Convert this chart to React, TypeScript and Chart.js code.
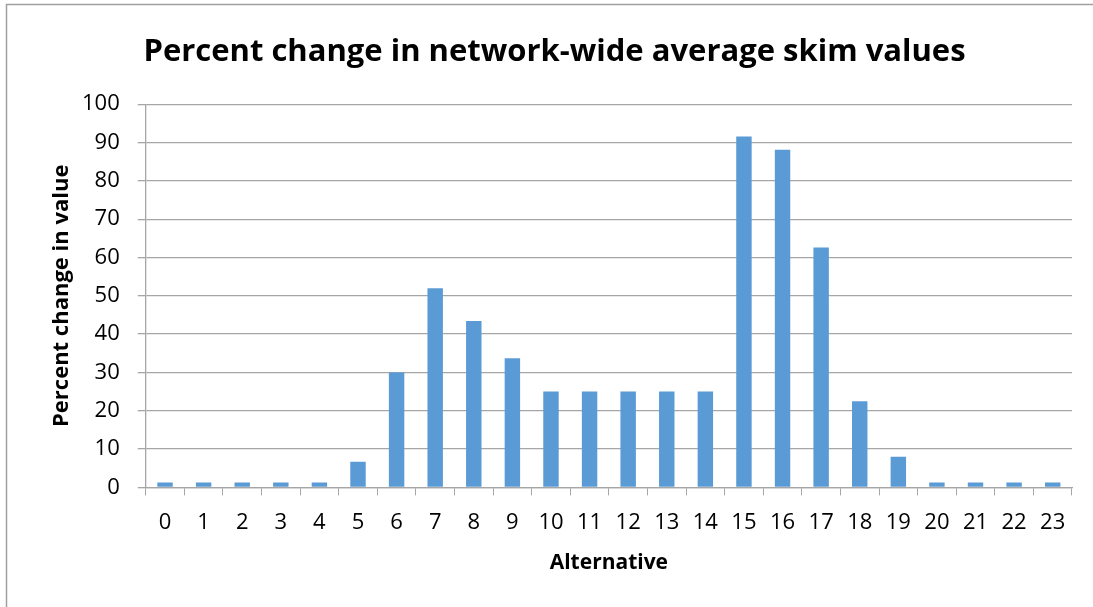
import React, { useEffect, useRef } from "react";
import { Chart, registerables } from "chart.js";

Chart.register(...registerables);

// Alternatives on the x axis
const alternatives: string[] = [
  "0", "1", "2", "3", "4", "5", "6", "7", "8", "9", "10", "11",
  "12", "13", "14", "15", "16", "17", "18", "19", "20", "21", "22", "23",
];

// Percent change in the network-wide average skim value for each alternative
const percentChange: number[] = [
  1.3, 1.3, 1.3, 1.3, 1.3, 6.7, 30, 52, 43.4, 33.7, 25, 25,
  25, 25, 25, 91.6, 88.1, 62.6, 22.5, 8.0, 1.3, 1.3, 1.3, 1.3,
];

const chartTitle = "Percent change in network-wide average skim values";
const xTitle = "Alternative";
const yTitle = "Percent change in value";

const FONT = "'Open Sans', 'Noto Sans', sans-serif";
const GRID = "#a6a6a6";

// White page with a thin frame along the top and left edges
const framePlugin = {
  id: "frame",
  beforeDraw(chart: Chart) {
    const { ctx, width, height } = chart;
    ctx.save();
    ctx.fillStyle = "#ffffff";
    ctx.fillRect(0, 0, width, height);
    ctx.strokeStyle = "#a0a0a0";
    ctx.lineWidth = 1.5;
    ctx.beginPath();
    ctx.moveTo(6.5, height);
    ctx.lineTo(6.5, 4.5);
    ctx.lineTo(width, 4.5);
    ctx.stroke();
    ctx.restore();
  },
};

export default function App() {
  const canvasRef = useRef<HTMLCanvasElement | null>(null);

  useEffect(() => {
    if (!canvasRef.current) return;
    const chart = new Chart(canvasRef.current, {
      type: "bar",
      data: {
        labels: alternatives,
        datasets: [
          {
            data: percentChange,
            backgroundColor: "#5b9bd5",
            borderWidth: 0,
            barPercentage: 0.4,
            categoryPercentage: 1,
          },
        ],
      },
      plugins: [framePlugin],
      options: {
        animation: false,
        responsive: false,
        maintainAspectRatio: false,
        layout: { padding: { left: 37, right: 21, top: 34, bottom: 31 } },
        plugins: {
          legend: { display: false },
          tooltip: { enabled: false },
          title: {
            display: true,
            text: chartTitle,
            color: "#000000",
            font: { family: FONT, size: 31, weight: "bold" },
            padding: { top: 0, bottom: 33 },
          },
        },
        scales: {
          x: {
            grid: {
              display: true,
              drawOnChartArea: false,
              drawTicks: true,
              tickLength: 8,
              color: GRID,
              offset: true,
            },
            border: { display: true, color: GRID, width: 1.3 },
            ticks: {
              color: "#000000",
              font: { family: FONT, size: 22 },
              padding: 14,
              maxRotation: 0,
              autoSkip: false,
            },
            title: {
              display: true,
              text: xTitle,
              color: "#000000",
              font: { family: FONT, size: 21, weight: "bold" },
              padding: { top: 1, bottom: 0 },
            },
          },
          y: {
            min: 0,
            max: 100,
            grid: {
              color: GRID,
              lineWidth: 1.3,
              drawTicks: true,
              tickLength: 8,
            },
            border: { display: true, color: GRID, width: 1.3 },
            ticks: {
              stepSize: 10,
              color: "#000000",
              font: { family: FONT, size: 22 },
              padding: 18,
            },
            title: {
              display: true,
              text: yTitle,
              color: "#000000",
              font: { family: FONT, size: 22, weight: "bold", lineHeight: 1 },
              padding: { top: 14, bottom: -9 },
            },
          },
        },
      },
    });
    return () => chart.destroy();
  }, []);

  return (
    <div style={{ position: "absolute", left: 0, top: 0, width: 1093, height: 607 }}>
      <canvas ref={canvasRef} width={1093} height={607} />
    </div>
  );
}
